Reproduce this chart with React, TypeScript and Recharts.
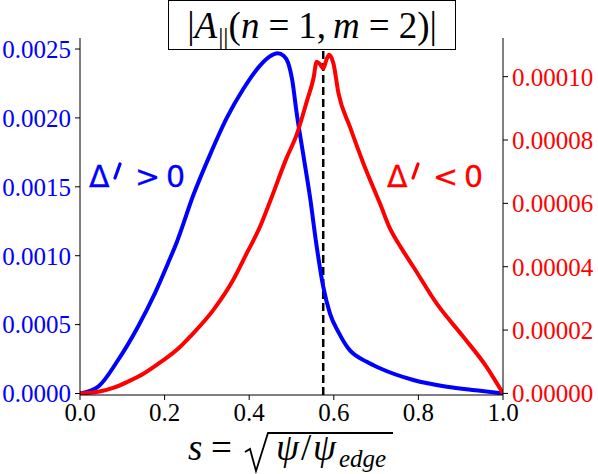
import * as React from "react";
import {
  ComposedChart,
  Line,
  XAxis,
  YAxis,
  ReferenceLine,
} from "recharts";

// blue curve (left axis)
const blueS = [0, 0.043, 0.09, 0.137, 0.177, 0.208, 0.229, 0.268, 0.307, 0.347, 0.386, 0.4255, 0.448, 0.467, 0.482, 0.492, 0.502, 0.512, 0.528, 0.544, 0.558, 0.575, 0.591, 0.612, 0.634, 0.678, 0.709, 0.788, 0.867, 0.946, 1.0];
const blueV = [0, 0.00005, 0.000243, 0.000485, 0.000727, 0.000945, 0.0011, 0.00144, 0.00173, 0.002, 0.00221, 0.00238, 0.002445, 0.00247, 0.00245, 0.0024, 0.00227, 0.00204, 0.00173, 0.00142, 0.0011, 0.000775, 0.00058, 0.00044, 0.000328, 0.00023, 0.000183, 0.000098, 0.000049, 0.00002, 0];

// red curve (right axis)
const redS = [0, 0.043, 0.08, 0.113, 0.15, 0.192, 0.235, 0.26, 0.315, 0.362, 0.394, 0.4255, 0.449, 0.488, 0.512, 0.536, 0.552, 0.5595, 0.567, 0.575, 0.583, 0.589, 0.599, 0.611, 0.638, 0.67, 0.709, 0.733, 0.76, 0.788, 0.843, 0.906, 0.961, 1.0];
const redV = [0, 0.05e-5, 0.18e-5, 0.37e-5, 0.62e-5, 1.0e-5, 1.45e-5, 1.79e-5, 2.63e-5, 3.58e-5, 4.42e-5, 5.26e-5, 6.05e-5, 7.42e-5, 8.16e-5, 9.21e-5, 9.95e-5, 10.47e-5, 10.4e-5, 10.26e-5, 10.55e-5, 10.69e-5, 10.42e-5, 9.48e-5, 8.42e-5, 7.26e-5, 6.0e-5, 5.2e-5, 4.58e-5, 4.0e-5, 2.84e-5, 1.79e-5, 0.84e-5, 0];

const xTicks = [0, 0.2, 0.4, 0.6, 0.8, 1.0];
const leftTicks = [0, 0.0005, 0.001, 0.0015, 0.002, 0.0025];
const rightTicks = [0, 0.00002, 0.00004, 0.00006, 0.00008, 0.0001];
const resonance = 0.575;

const blueData = blueS.map((s, i) => ({ s, a: blueV[i] }));
const redData = redS.map((s, i) => ({ s, b: redV[i] }));

const serif = "'Liberation Serif', 'DejaVu Serif', serif";
const sans = "'DejaVu Sans', sans-serif";

const gap = (w: number) => <span style={{ display: "inline-block", width: w }} />;

// Δ' > 0 / Δ' < 0 annotation, drawn in its own svg layer
function DeltaLabel({ color, sign, x }: { color: string; sign: string; x: number }) {
  const style = { fontFamily: sans, fontSize: 30, fill: color, stroke: color, strokeWidth: 0.3 };
  return (
    <g>
      <text x={x} y={187} style={style}>Δ</text>
      <line x1={x + 31} y1={164} x2={x + 26} y2={178} stroke={color} strokeWidth={3.2} strokeLinecap="round" />
      <text x={x + 46} y={187} style={style}>{sign}</text>
      <text x={x + 77} y={187} style={style}>0</text>
    </g>
  );
}

export default function App() {
  return (
    <div style={{ position: "absolute", left: 0, top: 0, width: 598, height: 474, background: "#fff" }}>
      <ComposedChart
        width={598}
        height={474}
        margin={{ top: 38, right: 0, left: 0, bottom: 39 }}
      >
        <XAxis
          xAxisId="x"
          dataKey="s"
          type="number"
          domain={[0, 1]}
          ticks={xTicks}
          tickFormatter={(v) => v.toFixed(1)}
          allowDataOverflow
          height={40}
          stroke="#000"
          tickSize={5}
          tickMargin={3}
          tick={{ fill: "#000", fontSize: 25, fontFamily: serif }}
        />
        <XAxis
          xAxisId="top"
          orientation="top"
          type="number"
          domain={[0, 1]}
          tick={false}
          tickLine={false}
          height={0}
          stroke="#000"
        />
        <YAxis
          yAxisId="left"
          domain={[-0.0000109, 0.00258]}
          ticks={leftTicks}
          allowDataOverflow
          tickFormatter={(v) => v.toFixed(4)}
          width={80}
          stroke="#000"
          tickSize={5}
          tickMargin={4}
          tick={{ fill: "#0000ff", fontSize: 25, fontFamily: serif }}
        />
        <YAxis
          yAxisId="right"
          orientation="right"
          domain={[-0.0000005, 0.0001122]}
          ticks={rightTicks}
          allowDataOverflow
          tickFormatter={(v) => v.toFixed(5)}
          width={95}
          stroke="#000"
          tickSize={5}
          tickMargin={4}
          tick={{ fill: "#ff0000", fontSize: 25, fontFamily: serif }}
        />
        <ReferenceLine
          xAxisId="x"
          yAxisId="left"
          x={resonance}
          stroke="#000"
          strokeWidth={2.5}
          strokeDasharray="8 4"
        />
        <Line
          xAxisId="x"
          yAxisId="left"
          data={blueData}
          dataKey="a"
          type="monotone"
          stroke="#0000ff"
          strokeWidth={4}
          dot={false}
          isAnimationActive={false}
        />
        <Line
          xAxisId="x"
          yAxisId="right"
          data={redData}
          dataKey="b"
          type="monotone"
          stroke="#ff0000"
          strokeWidth={4}
          dot={false}
          isAnimationActive={false}
        />
      </ComposedChart>

      {/* annotations and x-axis label */}
      <svg
        width={598}
        height={474}
        style={{ position: "absolute", left: 0, top: 0, pointerEvents: "none" }}
      >
        <DeltaLabel color="#0000ff" sign=">" x={89} />
        <DeltaLabel color="#ff0000" sign="<" x={387} />

        <g fontFamily={serif} fill="#000">
          <text x={188} y={460} fontSize={37} fontStyle="italic">s</text>
          <text x={211} y={460} fontSize={37}>=</text>
          <path
            d="M245 452 L250 449 L256 471 L268 433 L393 433"
            fill="none"
            stroke="#000"
            strokeWidth={1.8}
            strokeLinejoin="miter"
          />
          <text x={276} y={460} fontSize={37} fontStyle="italic">ψ</text>
          <text x={301} y={460} fontSize={37}>/</text>
          <text x={313} y={460} fontSize={37} fontStyle="italic">ψ</text>
          <text x={339} y={467} fontSize={25} fontStyle="italic">edge</text>
        </g>
      </svg>

      {/* boxed title */}
      <div
        style={{
          position: "absolute",
          left: 168,
          top: 0,
          width: 288,
          height: 50,
          border: "1.5px solid #000",
          background: "#fff",
          boxSizing: "border-box",
          display: "flex",
          alignItems: "center",
          justifyContent: "center",
          fontFamily: serif,
          fontSize: 37,
          whiteSpace: "nowrap",
          color: "#000",
          overflow: "hidden",
        }}
      >
        <span>
          |<i>A</i>
          <span style={{ fontSize: 26, position: "relative", top: 7, marginLeft: 1 }}>||</span>(<i>n</i>
          {gap(9)}={gap(9)}1,{gap(7)}<i>m</i>
          {gap(9)}={gap(9)}2)|
        </span>
      </div>
    </div>
  );
}
